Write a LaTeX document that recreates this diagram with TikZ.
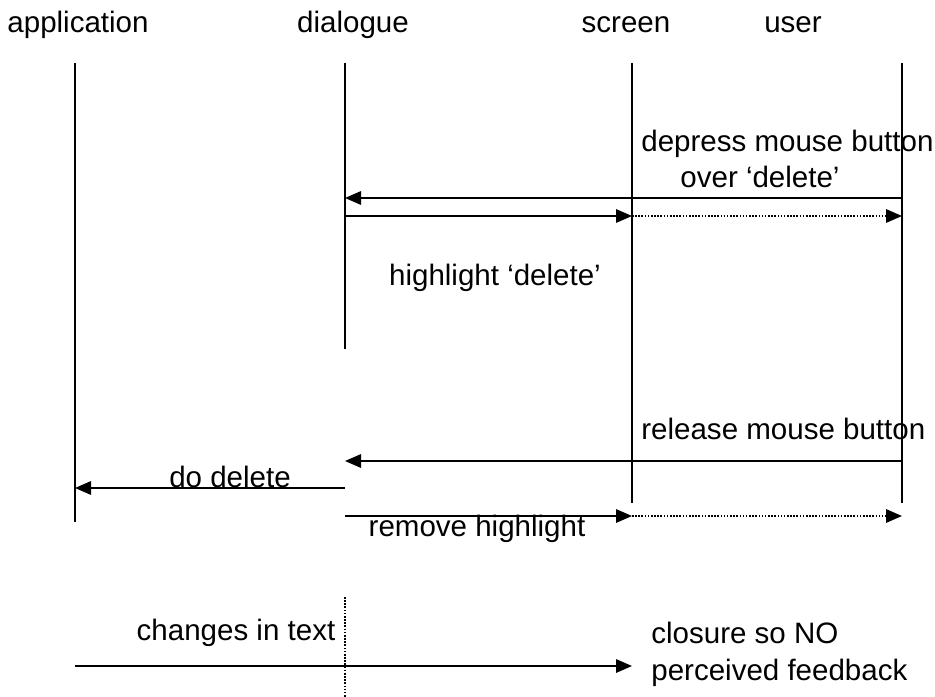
\documentclass[tikz,border=0pt]{standalone}
\usepackage{fontspec}
\setmainfont{Liberation Sans}
\usetikzlibrary{arrows.meta}
\tikzset{
  lifeline/.style={line width=1.2pt},
  msg/.style={line width=0.9pt, -{Triangle[length=3.2mm,width=2.7mm]}},
  echo/.style={msg, dash pattern=on 0.9pt off 0.9pt},
  lbl/.style={font=\fontsize{16.8}{19}\selectfont, inner sep=0pt}
}
\begin{document}
\begin{tikzpicture}[x=0.2mm, y=-0.2mm]
    \useasboundingbox (0,0) rectangle (935,697);

    % Lifeline heads
    \node[lbl] (app) at (78,25) {application};
    \node[lbl] (dia) at (353,25) {dialogue};
    \node[lbl] (scr) at (626,25) {screen};
    \node[lbl] (usr) at (793,25) {user};

    % Lifelines
    \coordinate (app top) at (75,63);   \coordinate (app bot) at (75,522);
    \coordinate (dia top) at (345,63);  \coordinate (dia bot) at (345,349);
    \coordinate (scr top) at (632,63);  \coordinate (scr bot) at (632,503);
    \coordinate (usr top) at (902,63);  \coordinate (usr bot) at (902,503);
    \draw[lifeline] (app top) -- (app bot);
    \draw[lifeline] (dia top) -- (dia bot);
    \draw[lifeline] (scr top) -- (scr bot);
    \draw[lifeline] (usr top) -- (usr bot);

    % Press
    \node[lbl, anchor=west] (press) at (641,144) {depress mouse button};
    \node[lbl] (over) at (760,177) {over `delete'};
    \coordinate (usr1) at (902,198);  \coordinate (dia1) at (345,198);
    \draw[msg] (usr1) -- (dia1);
    \coordinate (dia2) at (345,216);  \coordinate (scr2) at (632,216);
    \coordinate (usr2) at (902,216);
    \draw[msg] (dia2) -- (scr2);
    \draw[echo] (scr2) -- (usr2);
    \node[lbl] (hl) at (495,278) {highlight `delete'};

    % Release
    \node[lbl, anchor=west] (release) at (641,429) {release mouse button};
    \coordinate (usr3) at (902,461);  \coordinate (dia3) at (345,461);
    \draw[msg] (usr3) -- (dia3);
    \node[lbl] (dodel) at (230,477) {do delete};
    \coordinate (dia4) at (345,488);  \coordinate (app4) at (75,488);
    \draw[msg] (dia4) -- (app4);
    \coordinate (dia5) at (345,516);  \coordinate (scr5) at (632,516);
    \coordinate (usr5) at (902,516);
    \draw[msg] (dia5) -- (scr5);
    \draw[echo] (scr5) -- (usr5);
    \node[lbl] (rmhl) at (477,529) {remove highlight};

    % Text change
    \coordinate (dia6) at (345,597);  \coordinate (dia7) at (345,697);
    \draw[line width=0.9pt, dash pattern=on 0.9pt off 0.9pt] (dia6) -- (dia7);
    \node[lbl] (chg) at (236,633) {changes in text};
    \coordinate (app8) at (75,666);  \coordinate (scr8) at (632,666);
    \draw[msg] (app8) -- (scr8);
    \node[lbl, anchor=west] (clos) at (651,633) {closure so NO};
    \node[lbl, anchor=west] (perc) at (651,673) {perceived feedback};
\end{tikzpicture}
\end{document}
